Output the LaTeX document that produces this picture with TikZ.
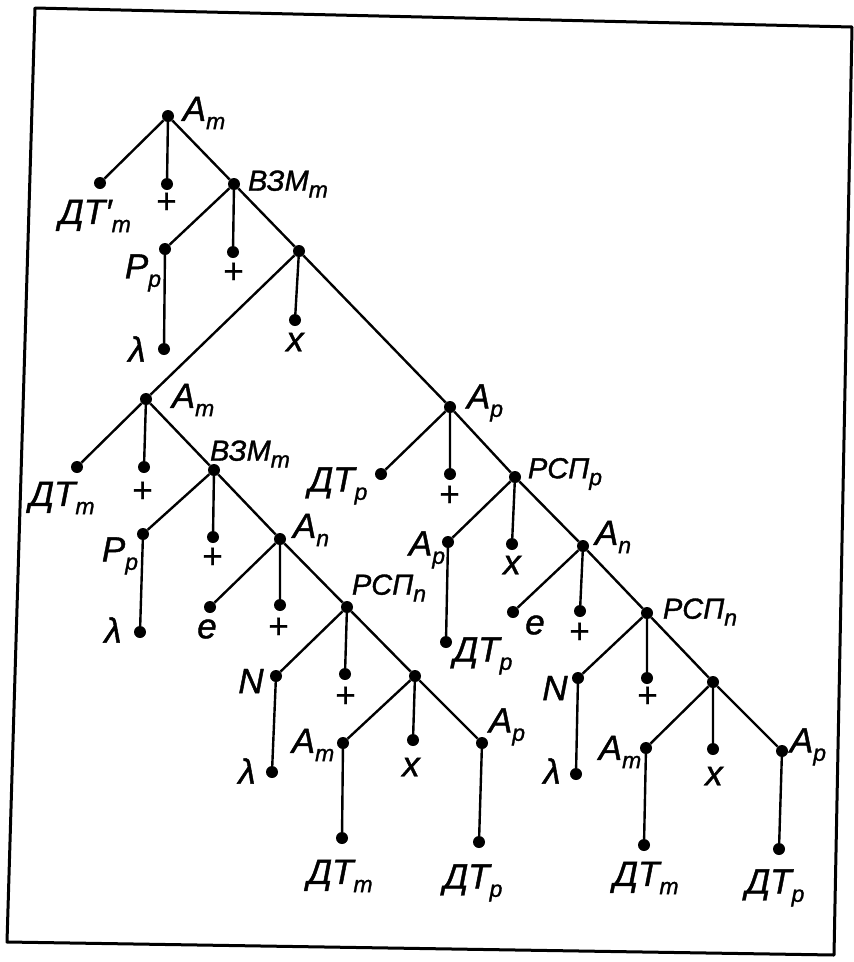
\documentclass[tikz,border=0pt]{standalone}
\usepackage{fontspec}
\setmainfont{Liberation Sans}
\newcommand{\ix}[1]{\raisebox{-0.45ex}{\fontsize{23}{23}\selectfont #1}}
\tikzset{
  dot/.style={circle, fill=black, inner sep=0pt, minimum size=12pt},
  branch/.style={line width=2.4pt},
  lbl/.style={font=\fontsize{35}{37}\selectfont\itshape\addfontfeatures{FakeBold=1.2}, inner sep=0pt},
  lblsm/.style={lbl, font=\fontsize{29}{31}\selectfont\itshape\addfontfeatures{FakeBold=1.2}},
  frame/.style={line width=3pt, line join=round}
}
\begin{document}
\begin{tikzpicture}[x=1pt, y=-1pt]
\useasboundingbox (0,0) rectangle (854,962);
% frame
\coordinate (tl) at (35,8);
\coordinate (tr) at (852,27);
\coordinate (br) at (834,955);
\coordinate (bl) at (7,942);
\draw[frame] (tl) -- (tr) -- (br) -- (bl) -- cycle;

% dots
\node[dot] (am1) at (168,116) {};
\node[dot] (dt1) at (100,183) {};
\node[dot] (pl1) at (167,184) {};
\node[dot] (vz1) at (234,184) {};
\node[dot] (pp1) at (165,249) {};
\node[dot] (pl2) at (233,252) {};
\node[dot] (s1) at (299,251) {};
\node[dot] (la1) at (164,349) {};
\node[dot] (x1) at (295,320) {};
\node[dot] (am2) at (146,399) {};
\node[dot] (ap1) at (450,407) {};
\node[dot] (dt2) at (77,467) {};
\node[dot] (pl3) at (144,467) {};
\node[dot] (vz2) at (214,470) {};
\node[dot] (pp2) at (143,534) {};
\node[dot] (pl4) at (213,537) {};
\node[dot] (an1) at (280,539) {};
\node[dot] (la2) at (140,632) {};
\node[dot] (e1) at (210,607) {};
\node[dot] (pl5) at (280,605) {};
\node[dot] (rs1) at (347,607) {};
\node[dot] (n1) at (276,676) {};
\node[dot] (pl6) at (345,674) {};
\node[dot] (s2) at (415,676) {};
\node[dot] (la3) at (272,772) {};
\node[dot] (am3) at (343,743) {};
\node[dot] (x2) at (413,740) {};
\node[dot] (ap2) at (482,743) {};
\node[dot] (dt3) at (342,838) {};
\node[dot] (dt4) at (479,842) {};
\node[dot] (dt5) at (381,474) {};
\node[dot] (pl7) at (450,474) {};
\node[dot] (rs2) at (515,477) {};
\node[dot] (ap3) at (448,542) {};
\node[dot] (x3) at (512,544) {};
\node[dot] (an2) at (583,546) {};
\node[dot] (dt6) at (446,642) {};
\node[dot] (e2) at (513,612) {};
\node[dot] (pl8) at (580,611) {};
\node[dot] (rs3) at (647,613) {};
\node[dot] (n2) at (578,678) {};
\node[dot] (pl9) at (647,678) {};
\node[dot] (s3) at (713,682) {};
\node[dot] (la4) at (576,774) {};
\node[dot] (am4) at (646,748) {};
\node[dot] (x4) at (713,749) {};
\node[dot] (ap4) at (782,751) {};
\node[dot] (dt7) at (644,845) {};
\node[dot] (dt8) at (779,849) {};

% branches
\draw[branch] (am1) -- (dt1) (am1) -- (pl1) (am1) -- (vz1);
\draw[branch] (vz1) -- (pp1) (vz1) -- (pl2) (vz1) -- (s1);
\draw[branch] (pp1) -- (la1);
\draw[branch] (s1) -- (am2) (s1) -- (x1) (s1) -- (ap1);
\draw[branch] (am2) -- (dt2) (am2) -- (pl3) (am2) -- (vz2);
\draw[branch] (vz2) -- (pp2) (vz2) -- (pl4) (vz2) -- (an1);
\draw[branch] (pp2) -- (la2);
\draw[branch] (an1) -- (e1) (an1) -- (pl5) (an1) -- (rs1);
\draw[branch] (rs1) -- (n1) (rs1) -- (pl6) (rs1) -- (s2);
\draw[branch] (n1) -- (la3);
\draw[branch] (s2) -- (am3) (s2) -- (x2) (s2) -- (ap2);
\draw[branch] (am3) -- (dt3) (ap2) -- (dt4);
\draw[branch] (ap1) -- (dt5) (ap1) -- (pl7) (ap1) -- (rs2);
\draw[branch] (rs2) -- (ap3) (rs2) -- (x3) (rs2) -- (an2);
\draw[branch] (ap3) -- (dt6);
\draw[branch] (an2) -- (e2) (an2) -- (pl8) (an2) -- (rs3);
\draw[branch] (rs3) -- (n2) (rs3) -- (pl9) (rs3) -- (s3);
\draw[branch] (n2) -- (la4);
\draw[branch] (s3) -- (am4) (s3) -- (x4) (s3) -- (ap4);
\draw[branch] (am4) -- (dt7) (ap4) -- (dt8);

% labels
\node[lbl] (am1t) at (204,113) {А\ix{m}};
\node[lbl] (dt1t) at (95,216) {ДТ′\ix{m}};
\node[lbl] (pl1t) at (166,203) {+};
\node[lblsm] (vz1t) at (288,184) {ВЗМ\ix{m}};
\node[lbl] (pp1t) at (143,273) {Р\ix{p}};
\node[lbl] (pl2t) at (233,273) {+};
\node[lbl] (la1t) at (137,349) {λ};
\node[lbl] (x1t) at (295,342) {x};
\node[lbl] (am2t) at (193,400) {А\ix{m}};
\node[lbl] (dt2t) at (62,498) {ДТ\ix{m}};
\node[lbl] (pl3t) at (142,492) {+};
\node[lblsm] (vz2t) at (250,454) {ВЗМ\ix{m}};
\node[lbl] (pp2t) at (120,556) {Р\ix{p}};
\node[lbl] (pl4t) at (212,558) {+};
\node[lbl] (an1t) at (311,530) {А\ix{n}};
\node[lbl] (la2t) at (113,630) {λ};
\node[lbl] (e1t) at (207,629) {e};
\node[lbl] (pl5t) at (278,628) {+};
\node[lblsm] (rs1t) at (389,588) {РСП\ix{n}};
\node[lbl] (n1t) at (251,681) {N};
\node[lbl] (pl6t) at (345,697) {+};
\node[lbl] (la3t) at (247,771) {λ};
\node[lbl] (am3t) at (313,745) {А\ix{m}};
\node[lbl] (x2t) at (411,767) {x};
\node[lbl] (ap2t) at (507,727) {А\ix{p}};
\node[lbl] (dt3t) at (340,876) {ДТ\ix{m}};
\node[lbl] (dt4t) at (473,883) {ДТ\ix{p}};
\node[lbl] (ap1t) at (485,403) {А\ix{p}};
\node[lbl] (dt5t) at (338,486) {ДТ\ix{p}};
\node[lbl] (pl7t) at (449,496) {+};
\node[lblsm] (rs2t) at (565,474) {РСП\ix{p}};
\node[lbl] (ap3t) at (427,550) {А\ix{p}};
\node[lbl] (x3t) at (512,565) {x};
\node[lbl] (an2t) at (613,537) {А\ix{n}};
\node[lbl] (dt6t) at (483,656) {ДТ\ix{p}};
\node[lbl] (e2t) at (535,625) {e};
\node[lbl] (pl8t) at (579,633) {+};
\node[lblsm] (rs3t) at (700,612) {РСП\ix{n}};
\node[lbl] (n2t) at (555,688) {N};
\node[lbl] (pl9t) at (647,697) {+};
\node[lbl] (la4t) at (552,771) {λ};
\node[lbl] (am4t) at (620,752) {А\ix{m}};
\node[lbl] (x4t) at (714,776) {x};
\node[lbl] (ap4t) at (808,747) {А\ix{p}};
\node[lbl] (dt7t) at (646,878) {ДТ\ix{m}};
\node[lbl] (dt8t) at (775,888) {ДТ\ix{p}};
\end{tikzpicture}
\end{document}
